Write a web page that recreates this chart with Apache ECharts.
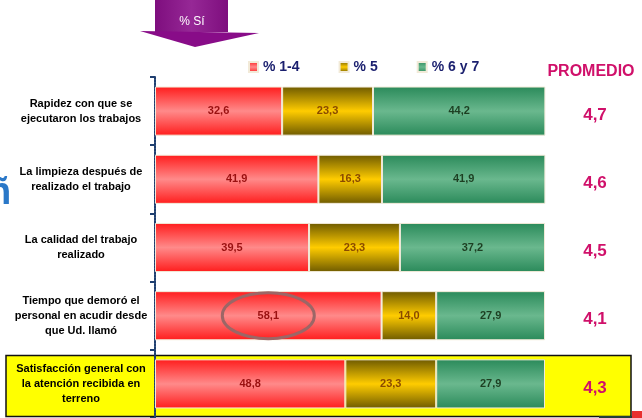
<!DOCTYPE html>
<html><head><meta charset="utf-8">
<script src="https://cdn.jsdelivr.net/npm/echarts@6/dist/echarts.min.js"></script>
<style>html,body{margin:0;padding:0;background:#fff}#c{width:642px;height:418px}</style>
</head><body><div id="c"></div>
<script>
const categories = [
  'Rapidez con que se\nejecutaron los trabajos',
  'La limpieza después de\nrealizado el trabajo',
  'La calidad del trabajo\nrealizado',
  'Tiempo que demoró el\npersonal en acudir desde\nque Ud. llamó',
  'Satisfacción general con\nla atención recibida en\nterreno'
];
const pct14 = [32.6, 41.9, 39.5, 58.1, 48.8];
const pct5 = [23.3, 16.3, 23.3, 14.0, 23.3];
const pct67 = [44.2, 41.9, 37.2, 27.9, 27.9];
const promedio = ['4,7', '4,6', '4,5', '4,1', '4,3'];
const seriesNames = ['% 1-4', '% 5', '% 6 y 7'];

const grad = (edge, mid) => new echarts.graphic.LinearGradient(0, 0, 0, 1, [
  {offset: 0, color: edge}, {offset: 0.5, color: mid}, {offset: 1, color: edge}
]);
const fmt = p => p.value.toFixed(1).replace('.', ',');
const font = 'Liberation Sans, Arial, sans-serif';
const PINK = '#d0106a';

function mk(name, data, edge, mid, labelColor) {
  return {
    name, type: 'bar', stack: 't', data, barWidth: '72%', clip: false,
    itemStyle: {color: grad(edge, mid), borderColor: '#f2ead8', borderWidth: 1},
    label: {show: true, position: 'inside', formatter: fmt, color: labelColor,
      fontFamily: font, fontWeight: 'bold', fontSize: 11},
    emphasis: {disabled: true}
  };
}

const chart = echarts.init(document.getElementById('c'));
chart.setOption({
  animation: false,
  textStyle: {fontFamily: font},
  graphic: [
    {id: 'ybox', type: 'rect', z: -10, shape: {x: 6, y: 355.5, width: 625, height: 61},
      style: {fill: '#ffff00', stroke: '#111', lineWidth: 1.5}},
    {id: 'abox', type: 'rect', z: 10, shape: {x: 155, y: 0, width: 73, height: 32},
      style: {fill: new echarts.graphic.LinearGradient(0,0,1,0,[{offset:0,color:'#7e0e7e'},{offset:0.5,color:'#962896'},{offset:1,color:'#7e0e7e'}])}},
    {id: 'ahead', type: 'polygon', z: 10, shape: {points: [[140, 31], [259, 33], [195, 47]]},
      style: {fill: '#880c88'}},
    {id: 'atext', type: 'text', z: 11, style: {text: '% Sí', x: 192, y: 22, fill: '#fff', fontSize: 12,
      fontFamily: font, align: 'center', verticalAlign: 'middle'}},
    {id: 'prom', type: 'text', style: {text: 'PROMEDIO', x: 591, y: 72, fill: PINK, fontSize: 16, fontWeight: 'bold',
      fontFamily: font, align: 'center', verticalAlign: 'middle'}},
    {id: 'glyph', type: 'text', style: {text: 'ñ', x: -12, y: 194, fill: '#2a78c8', fontSize: 38, fontWeight: 'bold',
      fontFamily: font, verticalAlign: 'middle'}},
    {id: 'r1', type: 'rect', shape: {x: 632, y: 411, width: 10, height: 7}, style: {fill: '#e83030'}},
    {id: 'r2', type: 'rect', shape: {x: 599, y: 416, width: 33, height: 2}, style: {fill: '#23403a'}}
  ],
  legend: {
    top: 55, left: 243, itemWidth: 9, itemHeight: 10, itemGap: 39, icon: 'rect',
    textStyle: {color: '#1a1f6e', fontWeight: 'bold', fontSize: 14, fontFamily: font},
    data: seriesNames, selectedMode: false
  },
  grid: {left: 155, right: 97, top: 77, height: 342},
  xAxis: {type: 'value', min: 0, max: 100, show: false},
  yAxis: [
    {type: 'category', data: categories, inverse: true,
      axisLine: {show: true, lineStyle: {color: '#1f3f70', width: 2, type: [2, 1]}},
      axisTick: {show: true, inside: false, length: 5, lineStyle: {color: '#1f3f70', width: 2}},
      axisLabel: {color: '#000', fontWeight: 'bold', fontSize: 11, fontFamily: font,
        align: 'center', margin: 74, lineHeight: 15}},
    {type: 'category', data: promedio, inverse: true, position: 'right',
      axisLine: {show: false}, axisTick: {show: false},
      axisLabel: {align: 'center', margin: 50, formatter: v => '{a|' + v + '}',
        rich: {a: {color: PINK, fontWeight: 'bold', fontSize: 17, fontFamily: font, padding: [8, 0, 0, 0]}}}}
  ],
  series: [
    mk(seriesNames[0], pct14, '#ff1c1c', '#ff8a8a', '#9a1010'),
    mk(seriesNames[1], pct5, '#6e5a00', '#ffcc00', '#8a4a00'),
    mk(seriesNames[2], pct67, '#2a8a5a', '#6ab88e', '#1d3f22')
  ]
});
// annotation ellipse around the longest red bar label
const idx = 3;
const c = chart.convertToPixel({gridIndex: 0}, [pct14[idx] / 2, idx]);
chart.setOption({graphic: [{id: 'ell', type: 'ellipse', z: 20, shape: {cx: c[0], cy: c[1], rx: 46, ry: 23},
  style: {fill: 'none', stroke: '#9c6666', lineWidth: 3}}]});
</script></body></html>
